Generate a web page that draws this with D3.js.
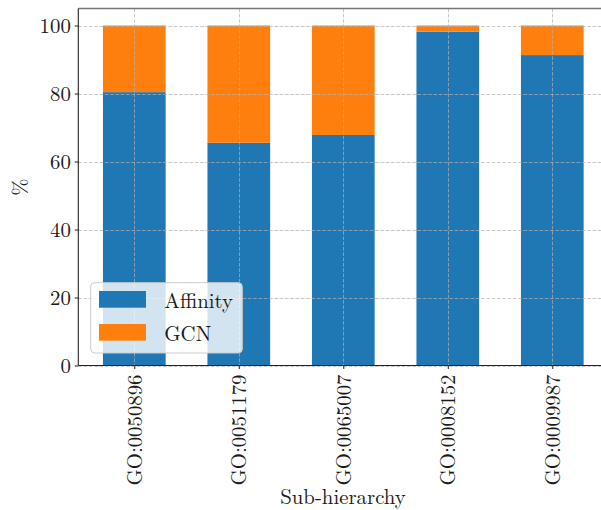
<!DOCTYPE html>
<html><head><meta charset="utf-8">
<script src="https://cdn.jsdelivr.net/npm/d3@7"></script>
<style>body{margin:0;background:#fff}svg{display:block}</style>
</head><body><svg id="c" width="601" height="510"></svg>
<script>
const categories = ["GO:0050896","GO:0051179","GO:0065007","GO:0008152","GO:0009987"];
const affinity = [80.4, 65.5, 67.8, 98.2, 91.3];
const gcn = [19.6, 34.5, 32.2, 1.8, 8.7];
const seriesNames = ["Affinity","GCN"];
const colors = ["#1f77b4","#ff7f0e"];
const yTicks = [0,20,40,60,80,100];

const FONT = '"Latin Modern Roman","CMU Serif","Liberation Serif",serif';
const FS = 20.8;
const TXT = "#1a1a1a";

const svg = d3.select("#c");
const L = 78.3, R = 601, T = 8.5, B = 365.5;
const x = d3.scaleLinear().domain([0,4]).range([134.3, 552.3]);
const bw = x(0.6) - x(0);
const y = d3.scaleLinear().domain([0,105]).range([B, T]);

const gBars = svg.append("g");
categories.forEach((c,i)=>{
  gBars.append("rect").attr("x", x(i)-bw/2).attr("width", bw)
    .attr("y", y(affinity[i])).attr("height", y(0)-y(affinity[i])).attr("fill", colors[0]);
  gBars.append("rect").attr("x", x(i)-bw/2).attr("width", bw)
    .attr("y", y(affinity[i]+gcn[i])).attr("height", y(affinity[i])-y(affinity[i]+gcn[i])).attr("fill", colors[1]);
});

// grid
const grid = svg.append("g").attr("stroke","#b0b0b0").attr("stroke-opacity",0.7).attr("stroke-width",1).attr("stroke-dasharray","3.7,1.6");
yTicks.forEach(t=>grid.append("line").attr("x1",L).attr("x2",R).attr("y1",Math.round(y(t))+0.5).attr("y2",Math.round(y(t))+0.5));
categories.forEach((c,i)=>grid.append("line").attr("x1",Math.round(x(i))+0.5).attr("x2",Math.round(x(i))+0.5).attr("y1",T).attr("y2",B));

// axes
const yAxis = d3.axisLeft(y).tickValues(yTicks).tickSize(3.5).tickPadding(4);
const gy = svg.append("g").attr("transform",`translate(${L},0)`).call(yAxis);
gy.select(".domain").remove();
gy.selectAll("line").attr("stroke","#222");
gy.selectAll("text").style("font-family",FONT).style("font-size",FS+"px").style("fill",TXT);

const xAxis = d3.axisBottom(x).tickValues(d3.range(categories.length)).tickFormat(i=>categories[i]).tickSize(3.5).tickPadding(0);
const gx = svg.append("g").attr("transform",`translate(0,${B})`).call(xAxis);
gx.select(".domain").remove();
gx.selectAll("line").attr("stroke","#222");
gx.selectAll("text").style("font-family",FONT).style("font-size",FS+"px").style("fill",TXT)
  .attr("text-anchor","end").attr("transform","rotate(-90)").attr("x",-9).attr("y",0).attr("dy","0.33em");

// spines
svg.append("line").attr("x1",L).attr("x2",R).attr("y1",T).attr("y2",T).attr("stroke","#777").attr("stroke-width",1.4);
svg.append("line").attr("x1",L).attr("x2",L).attr("y1",T).attr("y2",B).attr("stroke","#222").attr("stroke-width",1.1);
svg.append("line").attr("x1",L).attr("x2",R).attr("y1",B).attr("y2",B).attr("stroke","#222").attr("stroke-width",1.1);

// axis labels
svg.append("text").attr("x",343).attr("y",504).attr("text-anchor","middle")
  .style("font-family",FONT).style("font-size",FS+"px").style("fill",TXT).text("Sub-hierarchy");
svg.append("text").attr("transform","translate(27,187) rotate(-90)").attr("text-anchor","middle")
  .style("font-family",FONT).style("font-size",FS+"px").style("fill",TXT).text("%");

// legend
const lg = svg.append("g");
lg.append("rect").attr("x",90.7).attr("y",282.7).attr("width",151.6).attr("height",70.3).attr("rx",4)
  .attr("fill","#fff").attr("fill-opacity",0.8).attr("stroke","#ccc").attr("stroke-width",1);
seriesNames.forEach((s,i)=>{
  lg.append("rect").attr("x",99).attr("y",291+i*33).attr("width",47).attr("height",16.7).attr("fill",colors[i]);
  lg.append("text").attr("x",164.3).attr("y",307.5+i*33)
    .style("font-family",FONT).style("font-size",FS+"px").style("fill",TXT).text(s);
});
</script></body></html>
